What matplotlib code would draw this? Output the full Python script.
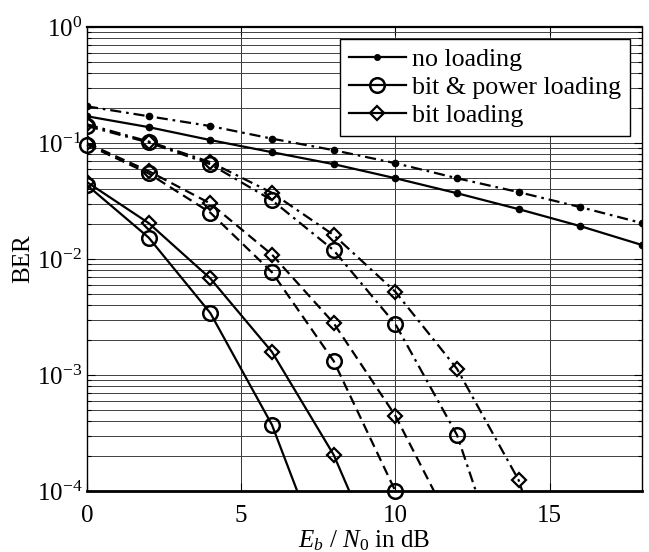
import matplotlib
matplotlib.use("Agg")
import matplotlib.pyplot as plt
import matplotlib.ticker as mticker
from matplotlib.lines import Line2D
import numpy as np

plt.rcParams['font.family'] = ['Liberation Serif', 'DejaVu Serif']
plt.rcParams['mathtext.fontset'] = 'custom'
plt.rcParams['mathtext.rm'] = 'Liberation Serif'
plt.rcParams['mathtext.it'] = 'Liberation Serif:italic'
plt.rcParams['axes.unicode_minus'] = False

# Eb/N0 in dB
snr_none = [0, 2, 4, 6, 8, 10, 12, 14, 16, 18]
ber_none_solid = [0.170, 0.137, 0.106, 0.0833, 0.0657, 0.0497, 0.0369, 0.0269, 0.0192, 0.0132]
ber_none_dashdot = [0.207, 0.170, 0.140, 0.109, 0.0867, 0.0670, 0.0497, 0.0377, 0.0280, 0.0204]

# solid group
snr_bp_solid = [0, 2, 4, 6, 8]
ber_bp_solid = [0.0433, 0.0153, 0.00342, 0.000371, 1.5e-5]
snr_bl_solid = [0, 2, 4, 6, 8, 10]
ber_bl_solid = [0.046, 0.0204, 0.0068, 0.00158, 0.000205, 1.2e-5]

# dashed group
snr_bp_dashed = [0, 2, 4, 6, 8, 10]
ber_bp_dashed = [0.097, 0.0546, 0.0251, 0.00768, 0.00132, 0.0001]
snr_bl_dashed = [0, 2, 4, 6, 8, 10, 12]
ber_bl_dashed = [0.0995, 0.0572, 0.0301, 0.0109, 0.0028, 0.000446, 4.1e-5]

# dash-dot group
snr_bp_dashdot = [0, 2, 4, 6, 8, 10, 12, 14]
ber_bp_dashdot = [0.140, 0.101, 0.0657, 0.0321, 0.0119, 0.00275, 0.000304, 8e-6]
snr_bl_dashdot = [0, 2, 4, 6, 8, 10, 12, 14, 16]
ber_bl_dashdot = [0.145, 0.103, 0.0684, 0.0372, 0.0161, 0.00522, 0.00113, 0.000124, 3e-6]

legend_labels = ['no loading', 'bit & power loading', 'bit loading']

fig = plt.figure(figsize=(6.49, 5.52), dpi=100)
ax = fig.add_axes([87/649, 61/552, 555/649, 464/552])

dashed = (0, (4.5, 2.5))
dashdot = (0, (5, 2.2, 1.2, 2.2))
lw = 1.6
dot = dict(marker='o', markersize=4.5, markerfacecolor='k', markeredgecolor='k')
circ = dict(marker='o', markersize=10.5, markerfacecolor='none', markeredgecolor='k', markeredgewidth=1.8)
diam = dict(marker='D', markersize=7, markerfacecolor='none', markeredgecolor='k', markeredgewidth=1.6)

ax.plot(snr_none, ber_none_solid, color='k', lw=lw, ls='-', **dot)
ax.plot(snr_none, ber_none_dashdot, color='k', lw=lw, ls=dashdot, **dot)

ax.plot(snr_bp_solid, ber_bp_solid, color='k', lw=lw, ls='-', **circ)
ax.plot(snr_bl_solid, ber_bl_solid, color='k', lw=lw, ls='-', **diam)

ax.plot(snr_bp_dashed, ber_bp_dashed, color='k', lw=lw, ls=dashed, clip_on=False, zorder=4, **circ)
ax.plot(snr_bl_dashed, ber_bl_dashed, color='k', lw=lw, ls=dashed, **diam)

ax.plot(snr_bp_dashdot, ber_bp_dashdot, color='k', lw=lw, ls=dashdot, **circ)
ax.plot(snr_bl_dashdot, ber_bl_dashdot, color='k', lw=lw, ls=dashdot, **diam)

ax.set_yscale('log')
ax.set_xlim(0, 18)
ax.set_ylim(1e-4, 1)
ax.set_xticks([0, 5, 10, 15])
ax.yaxis.set_major_locator(mticker.LogLocator(base=10, numticks=10))
ax.yaxis.set_minor_locator(mticker.LogLocator(base=10, subs=np.arange(2, 10), numticks=10))
ax.yaxis.set_minor_formatter(mticker.NullFormatter())
ax.yaxis.set_major_formatter(mticker.FuncFormatter(
    lambda v, p: r'$\mathregular{10^{%d}}$' % int(round(np.log10(v)))))

ax.grid(True, which='major', axis='x', color='0.2', lw=0.7)
ax.grid(True, which='both', axis='y', color='0.25', lw=0.7)
ax.set_axisbelow(True)

ax.tick_params(which='both', direction='in', top=True, right=True, labelsize=18, width=0.8)
ax.tick_params(which='major', length=6)
ax.tick_params(which='minor', length=3)
ax.tick_params(axis='x', pad=10)
for s in ax.spines.values():
    s.set_linewidth(1.0)
ax.spines['bottom'].set_linewidth(2.0)
ax.spines['top'].set_linewidth(1.6)

ax.set_xlabel(r'$E_b$ / $N_0$ in dB', fontsize=18, labelpad=1)
ax.set_ylabel('BER', fontsize=18, labelpad=2)

handles = [
    Line2D([], [], color='k', lw=lw, marker='o', markersize=4, markerfacecolor='k'),
    Line2D([], [], color='k', lw=lw, **circ),
    Line2D([], [], color='k', lw=lw, **diam),
]
leg = ax.legend(handles, legend_labels, loc='upper right', fontsize=18.6, frameon=True,
                fancybox=False, framealpha=1, edgecolor='k', handlelength=2.2,
                handletextpad=0.25, labelspacing=0.2, borderpad=0.35, borderaxespad=0.45)
leg.get_frame().set_linewidth(1.0)

fig.savefig('out.png', dpi=100)
